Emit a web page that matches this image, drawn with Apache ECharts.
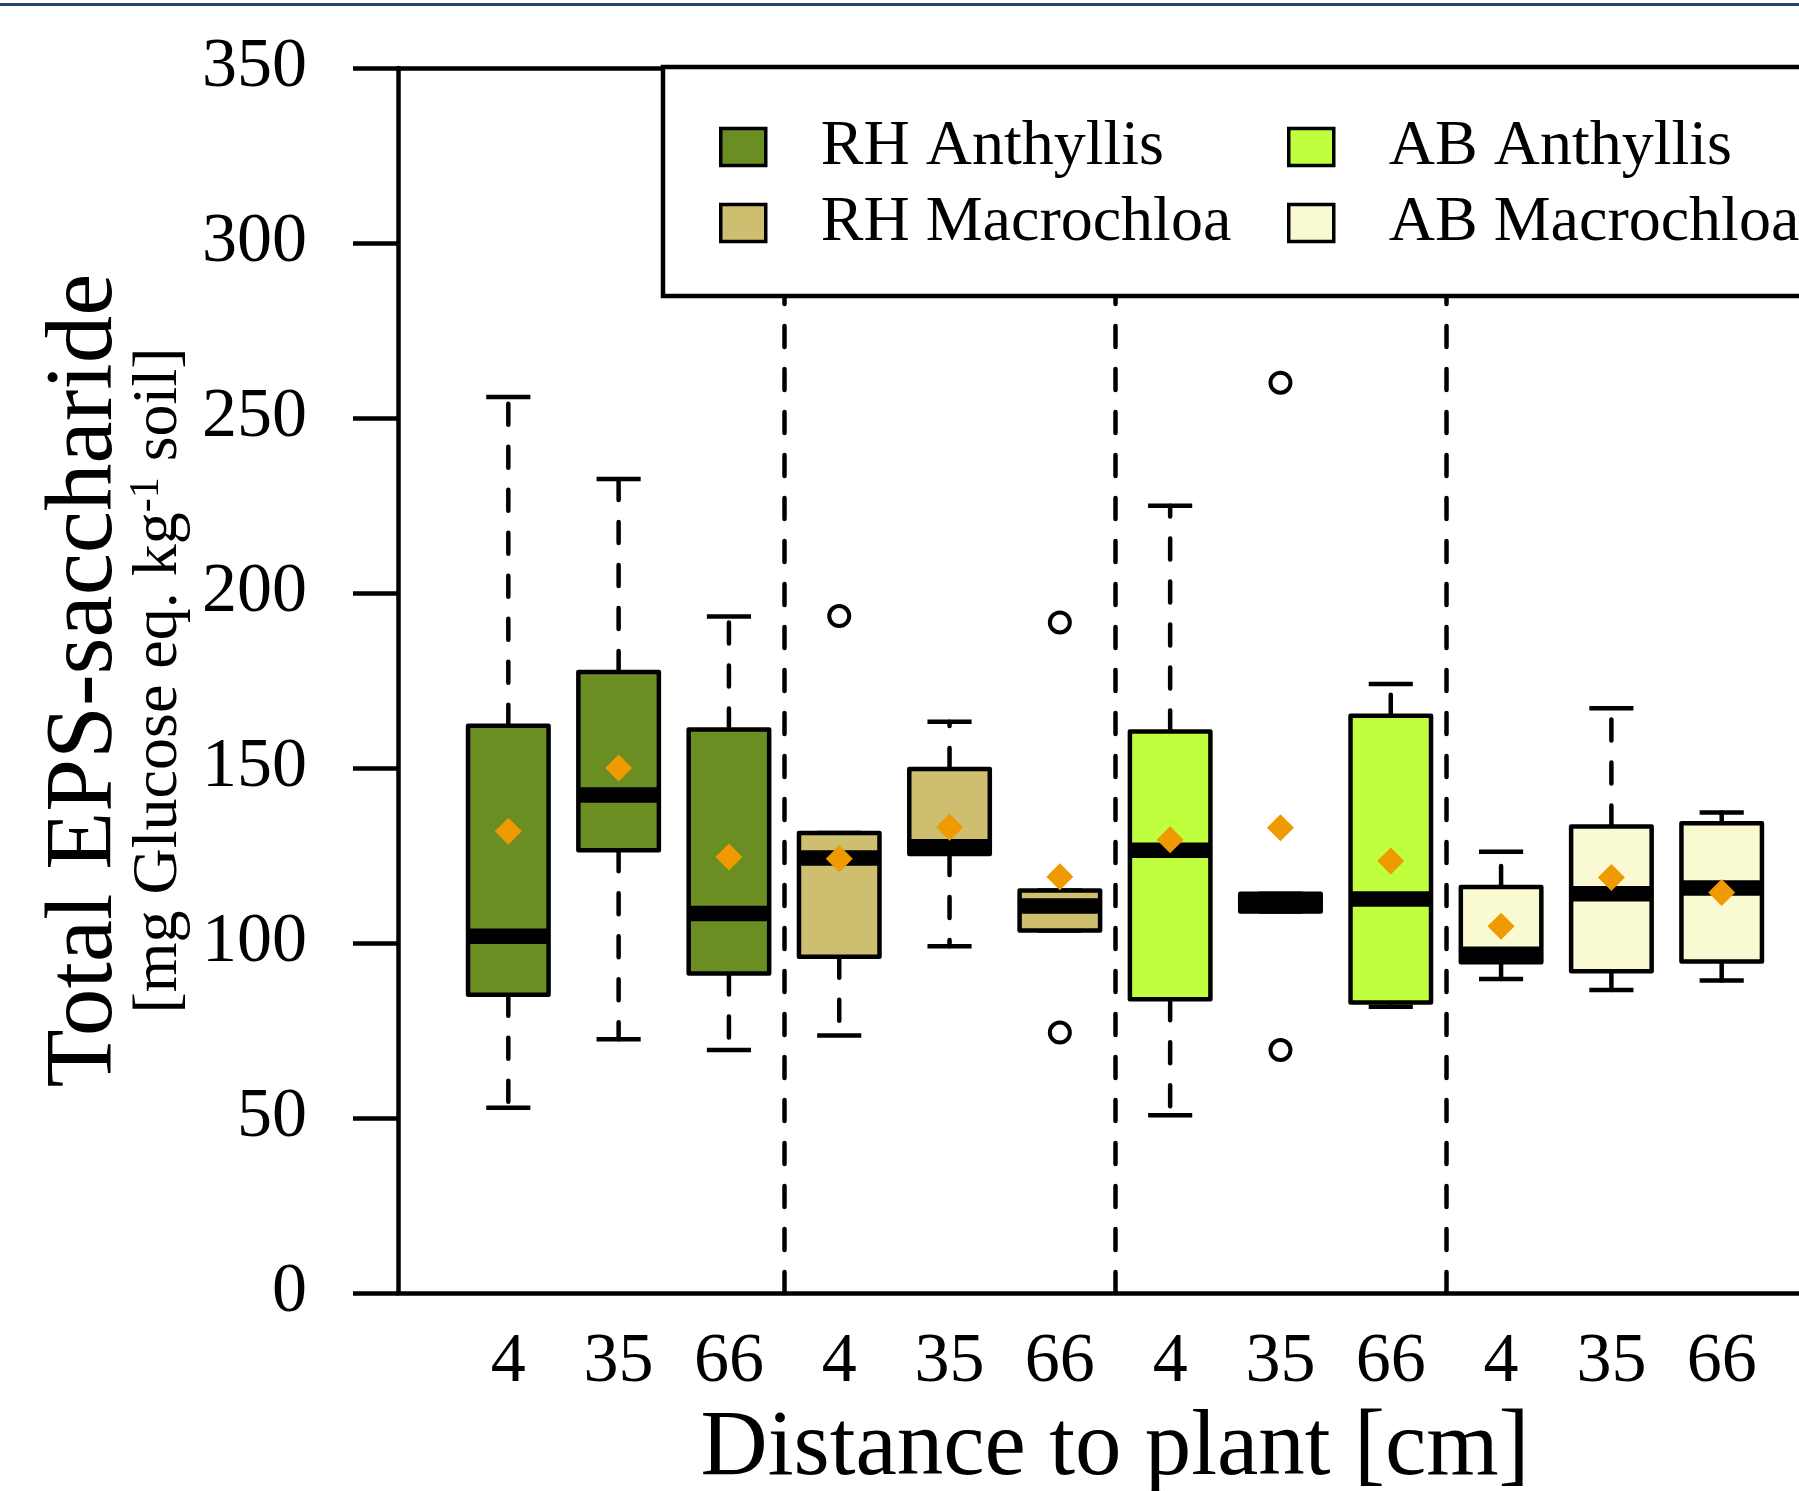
<!DOCTYPE html>
<html>
<head>
<meta charset="utf-8">
<script src="https://cdn.jsdelivr.net/npm/echarts@6/dist/echarts.min.js"></script>
<style>
html, body { margin: 0; padding: 0; overflow: hidden; background: #fff; width: 1799px; height: 1491px; }
#chart { width: 1900px; height: 1491px; }
</style>
</head>
<body>
<div id="chart"></div>
<script>
// ---- data ----
const groups = ['RH Anthyllis', 'RH Macrochloa', 'AB Anthyllis', 'AB Macrochloa'];
const distances = ['4', '35', '66'];
const groupColors = ['#6B8E23', '#CDBE70', '#C0FF3E', '#FAFAD2'];
const yTicks = [0, 50, 100, 150, 200, 250, 300, 350];

// box stats per distance: [min, q1, median, q3, max]
const rhAnthyllisBox   = [[52.9, 85.2, 101.9, 162.1, 256.0], [72.5, 126.5, 142.3, 177.4, 232.6], [69.4, 91.3, 108.4, 161.0, 193.3]];
const rhMacrochloaBox  = [[73.6, 96.1, 124.3, 131.4, 131.4], [99.1, 125.4, 127.5, 149.7, 163.2], [103.6, 103.6, 110.6, 115.0, 115.0]];
const abAnthyllisBox   = [[50.8, 83.9, 126.5, 160.4, 224.9], [109.0, 109.0, 111.5, 114.1, 114.1], [81.8, 83.0, 112.6, 164.9, 174.0]];
const abMacrochloaBox  = [[89.7, 94.5, 96.8, 116.0, 126.1], [86.6, 91.9, 114.1, 133.3, 167.1], [89.3, 94.7, 115.7, 134.2, 137.3]];

// means per distance
const rhAnthyllisMean  = [131.9, 150.0, 124.6];
const rhMacrochloaMean = [124.1, 133.1, 118.9];
const abAnthyllisMean  = [129.5, 132.9, 123.4];
const abMacrochloaMean = [104.8, 118.7, 114.4];

// outliers: [group index, distance index, value]
const outliers = [[1, 0, 193.4], [1, 2, 191.6], [1, 2, 74.4], [2, 1, 260.1], [2, 1, 69.4]];

// dividers between groups (in box-position units)
const dividers = [3.5, 6.5, 9.5];

// ---- build ----
const boxSets = [rhAnthyllisBox, rhMacrochloaBox, abAnthyllisBox, abMacrochloaBox];
const meanSets = [rhAnthyllisMean, rhMacrochloaMean, abAnthyllisMean, abMacrochloaMean];
const xLabels = [];
groups.forEach(() => distances.forEach(d => xLabels.push(d)));
const posOf = (g, d) => g * distances.length + d + 1;

const FONT = 'Liberation Serif';
const LW = 4.5;

function renderBox(params, api) {
  const x = api.value(0);
  const lo = api.value(1), q1 = api.value(2), md = api.value(3), q3 = api.value(4), hi = api.value(5);
  const unit = api.size([1, 0])[0];
  const half = unit * 0.365;
  const capHalf = unit * 0.2;
  const c = v => api.coord([x, v]);
  const cx = c(md)[0];
  const yLo = c(lo)[1], yQ1 = c(q1)[1], yMd = c(md)[1], yQ3 = c(q3)[1], yHi = c(hi)[1];
  const color = api.visual('color');
  const dash = { stroke: '#000', lineWidth: LW, lineDash: [21, 22], lineCap: 'round' };
  const solid = { stroke: '#000', lineWidth: LW };
  const children = [];
  if (hi > q3) children.push({ type: 'line', shape: { x1: cx, y1: yQ3, x2: cx, y2: yHi }, style: dash });
  if (lo < q1) children.push({ type: 'line', shape: { x1: cx, y1: yQ1, x2: cx, y2: yLo }, style: dash });
  children.push({ type: 'line', shape: { x1: cx - capHalf, y1: yHi, x2: cx + capHalf, y2: yHi }, style: solid });
  children.push({ type: 'line', shape: { x1: cx - capHalf, y1: yLo, x2: cx + capHalf, y2: yLo }, style: solid });
  children.push({ type: 'rect', shape: { x: cx - half, y: yQ3, width: 2 * half, height: yQ1 - yQ3 },
    style: { fill: color, stroke: '#000', lineWidth: LW, lineJoin: 'round' } });
  children.push({ type: 'line', shape: { x1: cx - half, y1: yMd, x2: cx + half, y2: yMd },
    style: { stroke: '#000', lineWidth: 15.5 } });
  return { type: 'group', children };
}

const series = groups.map((name, g) => ({
  name,
  type: 'custom',
  renderItem: renderBox,
  itemStyle: { color: groupColors[g] },
  encode: { x: 0, y: [1, 2, 3, 4, 5] },
  data: boxSets[g].map((b, d) => [posOf(g, d)].concat(b)),
  z: 2
}));

series.push({
  name: 'Dividers',
  type: 'custom',
  renderItem: () => ({ type: 'group', children: [] }),
  data: [],
  markLine: {
    silent: true,
    z: 1,
    symbol: 'none',
    label: { show: false },
    lineStyle: { color: '#000', width: LW, type: [21, 22], cap: 'round' },
    data: dividers.map(v => ({ xAxis: v }))
  },
  z: 1
});

const meanData = [];
meanSets.forEach((arr, g) => arr.forEach((m, d) => meanData.push([posOf(g, d), m])));
const outlierData = outliers.map(o => [posOf(o[0], o[1]), o[2]]);

series.push({
  name: 'Outliers',
  type: 'scatter',
  symbol: 'circle',
  symbolSize: 20,
  itemStyle: { color: 'rgba(255,255,255,0)', borderColor: '#000', borderWidth: 4, opacity: 1 },
  data: outlierData,
  z: 3
});
series.push({
  name: 'Mean',
  type: 'scatter',
  symbol: 'diamond',
  symbolSize: 27,
  itemStyle: { color: '#EE9A00', opacity: 1 },
  data: meanData,
  z: 4
});

const legendCommon = {
  orient: 'vertical',
  icon: 'rect',
  itemWidth: 45,
  itemHeight: 37,
  itemGap: 12,
  selectedMode: false,
  itemStyle: { borderColor: '#000', borderWidth: 3.5 },
  textStyle: { fontFamily: FONT, fontSize: 64, color: '#000', padding: [0, 0, 0, 50] }
};

const option = {
  animation: false,
  backgroundColor: '#fff',
  textStyle: { fontFamily: FONT },
  graphic: [{
    type: 'rect', left: 0, top: 3, shape: { width: 1900, height: 3 },
    style: { fill: '#23427A' }, silent: true
  }],
  grid: { left: 398, right: 68, top: 68, bottom: 198, containLabel: false, outerBoundsMode: 'none' },
  legend: [
    Object.assign({}, legendCommon, {
      left: 663, top: 67,
      padding: [48, 720, 41, 56],
      backgroundColor: '#fff', borderColor: '#000', borderWidth: 4.5,
      data: [groups[0], groups[1]],
      z: 6
    }),
    Object.assign({}, legendCommon, {
      left: 1287, top: 115,
      padding: 0,
      data: [groups[2], groups[3]],
      z: 7
    })
  ],
  xAxis: [{
    type: 'value', min: 0, max: 13, interval: 1, position: 'bottom',
    axisLine: { show: true, onZero: false, lineStyle: { color: '#000', width: LW } },
    axisTick: { show: false },
    splitLine: { show: false },
    axisLabel: {
      color: '#000', fontFamily: FONT, fontSize: 70, margin: 35,
      formatter: v => (v >= 1 && v <= xLabels.length) ? xLabels[v - 1] : ''
    },
    name: 'Distance to plant [cm]', nameLocation: 'middle', nameGap: 110,
    nameTextStyle: { color: '#000', fontFamily: FONT, fontSize: 93 }
  }, {
    type: 'value', min: 0, max: 13, position: 'top',
    axisLine: { show: true, onZero: false, lineStyle: { color: '#000', width: LW } },
    axisTick: { show: false }, axisLabel: { show: false }, splitLine: { show: false }
  }],
  yAxis: {
    type: 'value', min: yTicks[0], max: yTicks[yTicks.length - 1], interval: 50,
    axisLine: { show: true, lineStyle: { color: '#000', width: LW } },
    axisTick: { show: true, length: 45, lineStyle: { color: '#000', width: LW } },
    splitLine: { show: false },
    axisLabel: { color: '#000', fontFamily: FONT, fontSize: 70, margin: 91 },
    name: '{t|Total EPS-saccharide}\n{s|[mg Glucose eq. kg}{sup|-1}{s| soil]}',
    nameLocation: 'middle', nameRotate: 90, nameGap: 206,
    nameTextStyle: {
      color: '#000', fontFamily: FONT, align: 'center',
      rich: {
        t: { fontFamily: FONT, fontSize: 95, lineHeight: 80, color: '#000' },
        s: { fontFamily: FONT, fontSize: 64, lineHeight: 66, color: '#000' },
        sup: { fontFamily: FONT, fontSize: 42, lineHeight: 20, verticalAlign: 'top', color: '#000' }
      }
    }
  },
  series
};

const chart = echarts.init(document.getElementById('chart'), null, { renderer: 'canvas' });
chart.setOption(option);
</script>
</body>
</html>
